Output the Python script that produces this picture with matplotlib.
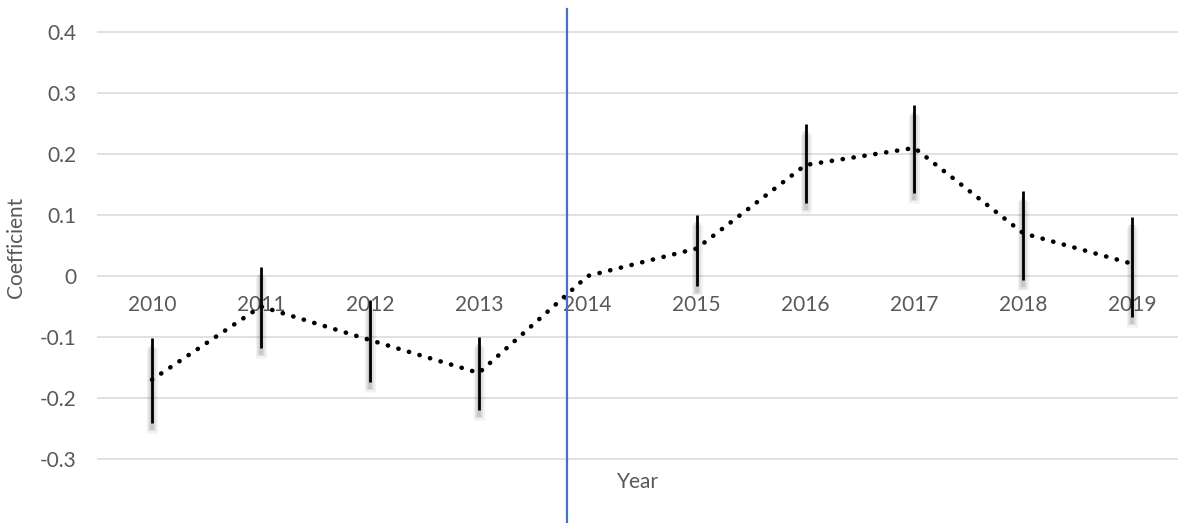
import matplotlib
matplotlib.use("Agg")
import matplotlib.pyplot as plt
import matplotlib.patheffects as pe

plt.rcParams['font.family'] = ['Lato', 'DejaVu Sans']

years = ["2010", "2011", "2012", "2013", "2014", "2015", "2016", "2017", "2018", "2019"]
coef = [-0.17, -0.05, -0.105, -0.159, 0.0, 0.045, 0.182, 0.21, 0.07, 0.02]
ci_low = [-0.241, -0.118, -0.174, -0.22, 0.0, -0.016, 0.12, 0.136, -0.007, -0.067]
ci_high = [-0.102, 0.015, -0.04, -0.10, 0.0, 0.10, 0.249, 0.28, 0.139, 0.097]
yticks = [-0.3, -0.2, -0.1, 0, 0.1, 0.2, 0.3, 0.4]
ytick_labels = ["-0.3", "-0.2", "-0.1", "0", "0.1", "0.2", "0.3", "0.4"]
policy_x = 3.81  # vertical marker between 2013 and 2014

grey_text = "#595959"

fig = plt.figure(figsize=(11.78, 5.23), dpi=100)
ax = fig.add_axes([97 / 1178, 0, 1 - 97 / 1178, 1])

x = list(range(len(years)))

# error bars with a soft drop shadow
err_low = [c - l for c, l in zip(coef, ci_low)]
err_high = [h - c for c, h in zip(coef, ci_high)]
shadow = [
    pe.SimpleLineShadow(offset=(0, -7), shadow_color="black", alpha=0.05, linewidth=8),
    pe.SimpleLineShadow(offset=(0, -6), shadow_color="black", alpha=0.08, linewidth=5.5),
    pe.SimpleLineShadow(offset=(0, -5), shadow_color="black", alpha=0.10, linewidth=3),
    pe.Normal(),
]
eb = ax.errorbar(x, coef, yerr=[err_low, err_high], fmt="none", ecolor="black",
                 elinewidth=2.0, capsize=0, zorder=3)
for col in eb[2]:
    col.set_path_effects(shadow)

ax.plot(x, coef, color="black", linewidth=3.3, linestyle=(0, (0.05, 2.35)),
        dash_capstyle="round", zorder=4)

ax.axvline(policy_x, ymin=0, ymax=1 - 9 / 523, color="#4472c4", linewidth=1.6, zorder=5)

ax.set_xlim(-0.505, 9.42)
ax.set_ylim(-0.405, 0.4525)
ax.set_yticks(yticks)
ax.set_yticklabels(ytick_labels)
ax.set_xticks(x)
ax.set_xticklabels(years)
ax.grid(axis="y", color="#d9d9d9", linewidth=1.1)
ax.set_axisbelow(True)

for s in ax.spines.values():
    s.set_visible(False)
ax.spines["bottom"].set_position(("data", 0))
ax.tick_params(axis="x", length=0, pad=14, labelsize=15, labelcolor=grey_text)
ax.tick_params(axis="y", length=0, pad=15, labelsize=15, labelcolor=grey_text)

ax.text(0.5, 1 - 482 / 523, "Year", transform=ax.transAxes, ha="center", va="center",
        fontsize=15, color=grey_text)
fig.text(16 / 1178, 1 - 247 / 523, "Coefficient", rotation=90, ha="center", va="center",
         fontsize=15, color=grey_text)

fig.savefig("out.png", dpi=100)
